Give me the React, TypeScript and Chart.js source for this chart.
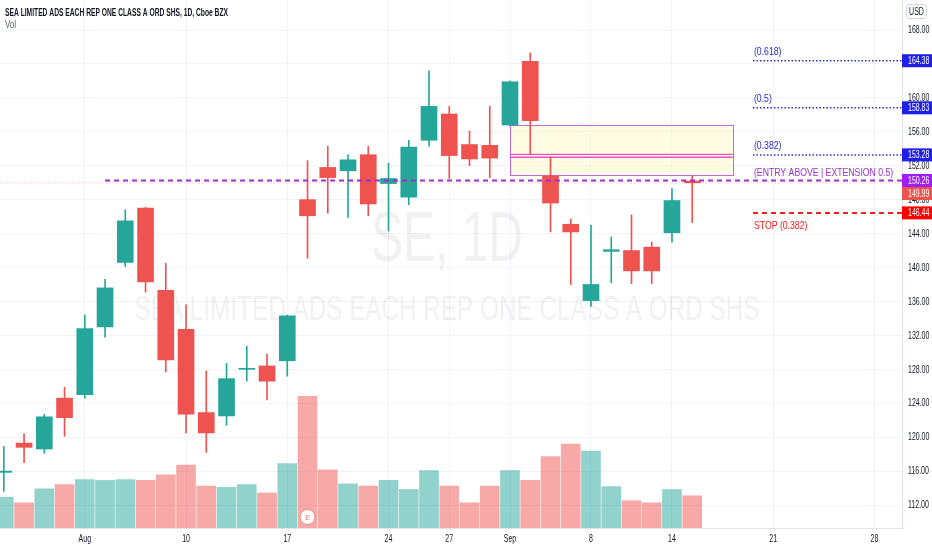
import React, { useEffect, useRef } from 'react';
import { Chart, registerables } from 'chart.js';

Chart.register(...registerables);

// ---------- data ----------
const dates = [
  'Jul 28', 'Jul 29', 'Jul 30', 'Jul 31', 'Aug 3', 'Aug 4', 'Aug 5', 'Aug 6', 'Aug 7',
  'Aug 10', 'Aug 11', 'Aug 12', 'Aug 13', 'Aug 14', 'Aug 17', 'Aug 18', 'Aug 19', 'Aug 20', 'Aug 21',
  'Aug 24', 'Aug 25', 'Aug 26', 'Aug 27', 'Aug 28', 'Aug 31', 'Sep 1', 'Sep 2', 'Sep 3', 'Sep 4',
  'Sep 8', 'Sep 9', 'Sep 10', 'Sep 11', 'Sep 14', 'Sep 15',
];
const opens = [
  115.85, 119.3, 118.6, 124.6, 125.0, 133.0, 140.6, 147.0, 137.3,
  132.7, 122.9, 122.5, 128.0, 128.4, 129.0, 148.0, 151.8, 151.4, 153.3,
  149.9, 148.3, 155.0, 158.1, 154.5, 154.4, 156.8, 164.3, 150.8, 145.1,
  136.1, 141.9, 142.0, 142.4, 144.1, 150.2,
];
const highs = [
  118.9, 120.4, 122.7, 125.9, 134.4, 138.6, 146.8, 147.1, 140.5,
  135.6, 127.8, 128.7, 130.7, 129.8, 134.4, 152.6, 154.3, 153.3, 154.3,
  152.3, 155.0, 163.2, 159.0, 156.1, 159.0, 162.0, 165.3, 153.0, 145.7,
  145.0, 143.6, 146.2, 143.0, 149.3, 150.8,
];
const lows = [
  113.6, 117.0, 118.1, 120.1, 124.6, 131.8, 140.1, 137.1, 127.7,
  120.5, 118.2, 121.4, 126.6, 124.4, 127.2, 141.1, 146.4, 145.9, 146.1,
  144.3, 147.4, 154.3, 150.5, 152.0, 150.6, 156.7, 153.4, 144.2, 138.0,
  135.4, 138.2, 138.1, 138.1, 143.0, 145.3,
];
const closes = [
  116.0, 118.8, 122.4, 122.3, 132.8, 137.6, 145.5, 138.3, 129.1,
  122.7, 120.5, 126.9, 128.1, 126.6, 134.3, 146.1, 150.6, 152.7, 147.5,
  150.5, 154.2, 159.0, 153.2, 152.8, 152.9, 161.9, 157.3, 147.6, 144.2,
  138.0, 142.1, 139.6, 139.6, 147.9, 149.99,
];
// volume, millions (estimated)
const volumes = [
  2.2, 1.8, 2.8, 3.1, 3.45, 3.4, 3.45, 3.4, 3.8,
  4.5, 3.0, 2.9, 3.1, 2.5, 4.6, 9.4, 4.15, 3.15, 3.0,
  3.4, 2.75, 4.1, 3.0, 1.8, 3.0, 4.1, 3.4, 5.1, 6.0,
  5.5, 2.95, 1.95, 1.8, 2.75, 2.3,
];

const xTickIndex = [4, 9, 14, 19, 22, 25, 29, 33, 38, 43];
const xTickLabels = ['Aug', '10', '17', '24', '27', 'Sep', '8', '14', '21', '28'];
const yTicks = [112, 116, 120, 124, 128, 132, 136, 140, 144, 148, 152, 156, 160, 164, 168];

const fibLevels = [164.38, 158.83, 153.28];
const fibNames = ['(0.618)', '(0.5)', '(0.382)'];
const entryLevel = 150.26;
const entryName = '(ENTRY ABOVE | EXTENSION 0.5)';
const stopLevel = 146.44;
const stopName = 'STOP (0.382)';
const entryStartIndex = 5;
const levelStartIndex = 37;
const earningsIndex = 15;

const zoneStartIndex = 25;
const zoneEndIndex = 36;
const zoneTop = 156.76;
const zoneBottom = 150.82;
const zoneMidLines = [153.35, 153.0];

const X_MIN = -0.188;
const X_MAX = 44.36;
const Y_MIN = 109.29;
const Y_MAX = 171.54;
const V_MAX = 37.7;

const UP = '#26a69a';
const DOWN = '#ef5350';
const UP_VOL = 'rgba(38,166,154,0.5)';
const DOWN_VOL = 'rgba(239,83,80,0.5)';
const FIB_COLOR = '#2a2ad2';
const FIB_TAG = '#1f1fe8';
const ENTRY_COLOR = '#9b2fd0';
const ENTRY_TAG = '#a11cff';
const STOP_COLOR = '#ff1a1a';
const STOP_TAG = '#ff0000';
const TEXT = '#131722';

const FAMILY = '"Liberation Sans", Arial, sans-serif';
const AXIS_SX = 0.7;
const NOTE_SX = 0.79;

const isUp = (i: number) => closes[i] >= opens[i];

function drawText(ctx: CanvasRenderingContext2D, text: string, x: number, y: number, font: string,
  color: string, align: CanvasTextAlign, sx: number) {
  ctx.save();
  ctx.font = font;
  ctx.translate(x, y);
  ctx.scale(sx, 1);
  ctx.fillStyle = color;
  ctx.textBaseline = 'middle';
  ctx.textAlign = align;
  ctx.fillText(text, 0, 0);
  ctx.restore();
}

function fitText(ctx: CanvasRenderingContext2D, text: string, x: number, y: number, width: number,
  font: string, color: string, align: CanvasTextAlign) {
  ctx.save();
  ctx.font = font;
  const w = ctx.measureText(text).width || 1;
  ctx.restore();
  drawText(ctx, text, x, y, font, color, align, width / w);
}

const overlayPlugin = {
  id: 'overlay',
  beforeDatasetsDraw(chart: any) {
    const ctx: CanvasRenderingContext2D = chart.ctx;
    const xs = chart.scales.x;
    const ys = chart.scales.y;
    const area = chart.chartArea;
    const cx = (area.left + area.right) / 2 - 4;
    // watermark
    fitText(ctx, 'SE, 1D', cx, 242, 152, `70px ${FAMILY}`, 'rgba(19,23,34,0.06)', 'center');
    fitText(ctx, 'SEA LIMITED ADS EACH REP ONE CLASS A ORD SHS', cx, 310, 625, `35px ${FAMILY}`,
      'rgba(19,23,34,0.06)', 'center');
    // zone box
    const x1 = xs.getPixelForValue(zoneStartIndex);
    const x2 = xs.getPixelForValue(zoneEndIndex);
    const y1 = ys.getPixelForValue(zoneTop);
    const y2 = ys.getPixelForValue(zoneBottom);
    ctx.save();
    ctx.fillStyle = 'rgba(255,249,196,0.45)';
    ctx.fillRect(x1, y1, x2 - x1, y2 - y1);
    ctx.strokeStyle = '#c06ae0';
    ctx.lineWidth = 1;
    ctx.strokeRect(Math.round(x1) + 0.5, Math.round(y1) + 0.5, Math.round(x2 - x1), Math.round(y2 - y1));
    ctx.strokeStyle = '#f24fc6';
    ctx.lineWidth = 1.3;
    zoneMidLines.forEach((v) => {
      const yy = ys.getPixelForValue(v);
      ctx.beginPath();
      ctx.moveTo(x1, yy);
      ctx.lineTo(x2, yy);
      ctx.stroke();
    });
    ctx.restore();
  },
  afterDraw(chart: any) {
    const ctx: CanvasRenderingContext2D = chart.ctx;
    const xs = chart.scales.x;
    const ys = chart.scales.y;
    const vs = chart.scales.v;
    const area = chart.chartArea;
    const axisFont = `10px ${FAMILY}`;

    // axis tick labels (from the scales' own ticks)
    xs.ticks.forEach((t: any, i: number) => {
      drawText(ctx, xTickLabels[i], xs.getPixelForValue(t.value), area.bottom + 11, axisFont, TEXT, 'center', AXIS_SX);
    });
    ys.ticks.forEach((t: any) => {
      drawText(ctx, Number(t.value).toFixed(2), area.right + 6, ys.getPixelForValue(t.value) + 0.5, axisFont, TEXT, 'left', AXIS_SX);
    });

    // annotation texts
    const tx = xs.getPixelForValue(levelStartIndex) + 1;
    const noteFont = `11px ${FAMILY}`;
    fibLevels.forEach((v, i) => {
      drawText(ctx, fibNames[i], tx, ys.getPixelForValue(v) - 8.5, noteFont, FIB_COLOR, 'left', NOTE_SX);
    });
    drawText(ctx, entryName, tx, ys.getPixelForValue(entryLevel) - 8, noteFont, ENTRY_COLOR, 'left', NOTE_SX);
    drawText(ctx, stopName, tx, ys.getPixelForValue(stopLevel) + 13, noteFont, STOP_COLOR, 'left', NOTE_SX);

    // price tags on the right axis
    const tags = [
      ...fibLevels.map((v) => ({ v, c: FIB_TAG })),
      { v: entryLevel, c: ENTRY_TAG },
      { v: closes[closes.length - 1], c: DOWN },
      { v: stopLevel, c: STOP_TAG },
    ].sort((a, b) => b.v - a.v);
    let prev = -100;
    tags.forEach((t) => {
      let yy = ys.getPixelForValue(t.v);
      if (yy < prev + 13) yy = prev + 13;
      prev = yy;
      ctx.fillStyle = t.c;
      ctx.fillRect(area.right, yy - 6.5, 30, 13);
      drawText(ctx, t.v.toFixed(2), area.right + 6, yy + 0.5, axisFont, '#ffffff', 'left', AXIS_SX);
    });

    // USD box
    ctx.save();
    ctx.strokeStyle = '#d1d4dc';
    ctx.lineWidth = 1;
    ctx.beginPath();
    (ctx as any).roundRect(906.5, 4.5, 20, 14, 2);
    ctx.stroke();
    ctx.restore();
    drawText(ctx, 'USD', 916.5, 12, axisFont, TEXT, 'center', AXIS_SX);

    // title
    fitText(ctx, 'SEA LIMITED ADS EACH REP ONE CLASS A ORD SHS, 1D, Cboe BZX', 5, 13, 223,
      `bold 10px ${FAMILY}`, TEXT, 'left');
    fitText(ctx, 'Vol', 5, 25, 11, `10px ${FAMILY}`, '#555a66', 'left');

    // earnings marker
    const ex = xs.getPixelForValue(earningsIndex);
    const ey = vs.getPixelForValue(0) - 11;
    ctx.save();
    ctx.beginPath();
    ctx.arc(ex, ey, 7.5, 0, Math.PI * 2);
    ctx.fillStyle = '#ffffff';
    ctx.fill();
    ctx.strokeStyle = '#f28b82';
    ctx.lineWidth = 1;
    ctx.stroke();
    ctx.restore();
    drawText(ctx, 'E', ex, ey + 0.5, `8px ${FAMILY}`, '#e57373', 'center', 0.85);
  },
};

function hLine(level: number, from: number, color: string, width: number, dash: number[]) {
  return {
    type: 'line' as const,
    data: [{ x: from, y: level }, { x: X_MAX + 1, y: level }],
    borderColor: color,
    borderWidth: width,
    borderDash: dash,
    pointRadius: 0,
    fill: false,
    yAxisID: 'y',
    order: 0,
  };
}

export default function App() {
  const ref = useRef<HTMLCanvasElement>(null);

  useEffect(() => {
    if (!ref.current) return;
    const idx = dates.map((_, i) => i);
    const chart = new Chart(ref.current, {
      type: 'bar',
      data: {
        datasets: [
          ...fibLevels.map((v) => hLine(v, levelStartIndex, FIB_COLOR, 1.5, [1.5, 2])),
          hLine(entryLevel, entryStartIndex, ENTRY_COLOR, 2, [5, 4]),
          hLine(stopLevel, levelStartIndex, STOP_COLOR, 2, [5, 4]),
          hLine(closes[closes.length - 1], X_MIN - 1, 'rgba(239,83,80,0.45)', 1, [1, 2]),
          {
            type: 'bar',
            label: 'body',
            data: idx.map((i) => ({ x: i, y: [opens[i], closes[i]] })),
            backgroundColor: idx.map((i) => (isUp(i) ? UP : DOWN)),
            barThickness: 16,
            grouped: false,
            minBarLength: 1,
            yAxisID: 'y',
            order: 1,
          },
          {
            type: 'bar',
            label: 'wick',
            data: idx.map((i) => ({ x: i, y: [lows[i], highs[i]] })),
            backgroundColor: idx.map((i) => (isUp(i) ? UP : DOWN)),
            barThickness: 1,
            grouped: false,
            yAxisID: 'y',
            order: 2,
          },
          {
            type: 'bar',
            label: 'Vol',
            data: idx.map((i) => ({ x: i, y: volumes[i] })),
            backgroundColor: idx.map((i) => (isUp(i) ? UP_VOL : DOWN_VOL)),
            barThickness: 19,
            grouped: false,
            yAxisID: 'v',
            order: 3,
          },
        ] as any,
      },
      options: {
        responsive: false,
        animation: false,
        events: [],
        layout: { padding: 0 },
        plugins: { legend: { display: false }, tooltip: { enabled: false } },
        scales: {
          x: {
            type: 'linear',
            min: X_MIN,
            max: X_MAX,
            offset: false,
            afterBuildTicks: (s: any) => {
              s.ticks = xTickIndex.map((v) => ({ value: v }));
            },
            afterFit: (s: any) => {
              s.height = 22;
            },
            ticks: { display: false, autoSkip: false },
            grid: { color: '#f0f3fa', drawTicks: false, offset: false },
            border: { color: '#e0e3eb' },
          },
          y: {
            type: 'linear',
            position: 'right',
            min: Y_MIN,
            max: Y_MAX,
            afterBuildTicks: (s: any) => {
              s.ticks = yTicks.map((v) => ({ value: v }));
            },
            afterFit: (s: any) => {
              s.width = 30;
            },
            ticks: { display: false, autoSkip: false },
            grid: { color: '#f0f3fa', drawTicks: false },
            border: { color: '#e0e3eb' },
          },
          v: {
            type: 'linear',
            display: false,
            min: 0,
            max: V_MAX,
          },
        },
      } as any,
      plugins: [overlayPlugin],
    });
    return () => chart.destroy();
  }, []);

  return (
    <div style={{ position: 'absolute', left: 0, top: 0, width: 932, height: 550, background: '#ffffff' }}>
      <canvas ref={ref} width={932} height={550} style={{ display: 'block' }} />
    </div>
  );
}
